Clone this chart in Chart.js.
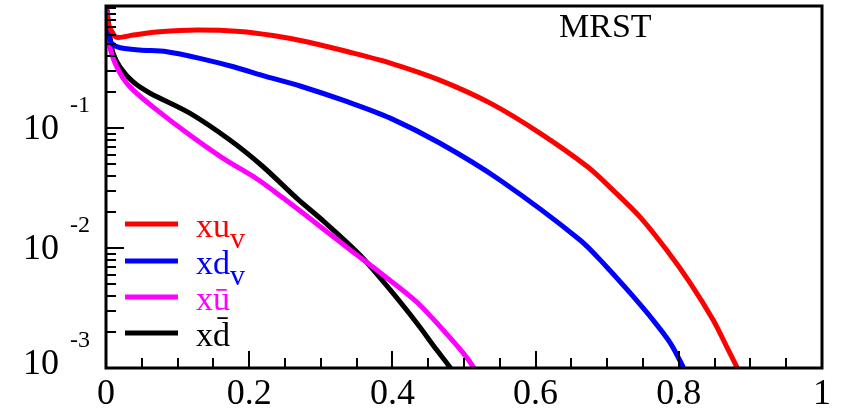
<!DOCTYPE html>
<html>
<head>
<meta charset="utf-8">
<script src="https://cdn.jsdelivr.net/npm/chart.js@4"></script>
<style>
html, body { margin: 0; padding: 0; background: #fff; }
</style>
</head>
<body>
<canvas id="pdfChart" width="841" height="413"></canvas>
<script>
// xu_v
var xUv = [0.0015, 0.004, 0.008, 0.015, 0.038, 0.075, 0.127, 0.187, 0.233, 0.28, 0.338, 0.397, 0.466, 0.536, 0.606, 0.673, 0.708, 0.746, 0.783, 0.816, 0.848, 0.867, 0.881, 0.885];
var yUv = [0.88, 0.72, 0.64, 0.57, 0.596, 0.634, 0.656, 0.638, 0.59, 0.524, 0.432, 0.348, 0.251, 0.162, 0.0908, 0.0473, 0.0304, 0.0181, 0.00962, 0.0051, 0.00251, 0.0015, 0.00102, 0.0009];
// xd_v
var xDv = [0.0015, 0.004, 0.008, 0.02, 0.047, 0.085, 0.131, 0.178, 0.224, 0.271, 0.338, 0.397, 0.466, 0.55, 0.662, 0.699, 0.732, 0.764, 0.788, 0.806, 0.81];
var yDv = [0.85, 0.6, 0.508, 0.467, 0.447, 0.432, 0.381, 0.324, 0.268, 0.224, 0.165, 0.121, 0.075, 0.0369, 0.01167, 0.00699, 0.00422, 0.00251, 0.00162, 0.00102, 0.0009];
// x ubar
var xUbar = [0.0015, 0.0056, 0.0126, 0.0237, 0.038, 0.0712, 0.117, 0.163, 0.211, 0.247, 0.295, 0.341, 0.387, 0.434, 0.471, 0.499, 0.513, 0.517];
var yUbar = [0.95, 0.473, 0.348, 0.261, 0.207, 0.141, 0.0874, 0.0562, 0.0376, 0.0262, 0.0158, 0.00965, 0.00596, 0.00355, 0.00207, 0.00133, 0.00102, 0.0009];
// x dbar
var xDbar = [0.0015, 0.0056, 0.0098, 0.0196, 0.038, 0.061, 0.117, 0.173, 0.219, 0.267, 0.303, 0.355, 0.397, 0.434, 0.462, 0.48, 0.484];
var yDbar = [0.97, 0.573, 0.422, 0.322, 0.242, 0.196, 0.133, 0.0794, 0.0478, 0.0258, 0.0169, 0.0087, 0.00447, 0.00237, 0.00141, 0.00102, 0.0009];

var seriesNames = ['xu', 'xd', 'x\u016B', 'xd\u0304'];
var seriesSubs = ['v', 'v', '', ''];
var seriesColors = ['#ff0000', '#0000ff', '#ff00ff', '#000000'];

var xTickVals = [0, 0.2, 0.4, 0.6, 0.8, 1];
var xTickLabels = ['0', '0.2', '0.4', '0.6', '0.8', '1'];
var yDecades = [0.1, 0.01, 0.001];
var yExpLabels = ['-1', '-2', '-3'];

function pts(xs, ys) {
    return xs.map(function (x, i) { return { x: x, y: ys[i] }; });
}

var allX = [xUv, xDv, xUbar, xDbar];
var allY = [yUv, yDv, yUbar, yDbar];

var decor = {
    id: 'decor',
    afterDraw: function (chart) {
        var ctx = chart.ctx;
        var a = chart.chartArea;
        var sx = chart.scales.x, sy = chart.scales.y;
        ctx.save();
        ctx.strokeStyle = '#000';
        ctx.lineWidth = 2;
        // x ticks, inside
        for (var k = 1; k < 20; k++) {
            var v = k * 0.05;
            var px = Math.round(sx.getPixelForValue(v));
            var len = (k % 4 === 0) ? 17 : 10;
            ctx.beginPath();
            ctx.moveTo(px, a.bottom);
            ctx.lineTo(px, a.bottom - len);
            ctx.stroke();
        }
        // y ticks, inside
        yDecades.forEach(function (d) {
            for (var m = 1; m <= 9; m++) {
                var py = Math.round(sy.getPixelForValue(m * d));
                var l = m === 1 ? 18 : 10;
                ctx.beginPath();
                ctx.moveTo(a.left, py);
                ctx.lineTo(a.left + l, py);
                ctx.stroke();
            }
        });
        var p1 = Math.round(sy.getPixelForValue(1));
        ctx.beginPath();
        ctx.moveTo(a.left, p1);
        ctx.lineTo(a.left + 10, p1);
        ctx.stroke();

        // frame
        ctx.lineWidth = 3;
        ctx.strokeRect(a.left, a.top, a.right - a.left, a.bottom - a.top);

        // tick labels
        ctx.fillStyle = '#000';
        ctx.font = '36px "Liberation Serif"';
        ctx.textAlign = 'center';
        ctx.textBaseline = 'middle';
        xTickVals.forEach(function (v, i) {
            ctx.fillText(xTickLabels[i], sx.getPixelForValue(v), 395);
        });
        yDecades.forEach(function (d, i) {
            var py = Math.min(sy.getPixelForValue(d) + 2, 365);
            ctx.font = '36px "Liberation Serif"';
            ctx.textAlign = 'right';
            ctx.fillText('10', 59, py);
            ctx.font = '24px "Liberation Serif"';
            ctx.textAlign = 'left';
            ctx.fillText(yExpLabels[i], 70, py - 24);
        });

        // title
        ctx.font = '34px "Liberation Serif"';
        ctx.textAlign = 'left';
        ctx.textBaseline = 'alphabetic';
        ctx.fillText('MRST', 559, 37);

        // legend
        seriesNames.forEach(function (name, i) {
            var ly = [224, 261, 297, 333][i];
            ctx.strokeStyle = seriesColors[i];
            ctx.lineWidth = 5;
            ctx.beginPath();
            ctx.moveTo(125, ly);
            ctx.lineTo(178, ly);
            ctx.stroke();
            ctx.fillStyle = seriesColors[i];
            ctx.font = '34px "Liberation Serif"';
            ctx.textAlign = 'left';
            ctx.textBaseline = 'alphabetic';
            ctx.fillText(name, 196, ly + 13);
            if (seriesSubs[i]) {
                var w = ctx.measureText(name).width;
                ctx.font = '30px "Liberation Serif"';
                ctx.fillText(seriesSubs[i], 196 + w, ly + 24);
            }
        });
        ctx.restore();
    }
};

var chart = new Chart(document.getElementById('pdfChart').getContext('2d'), {
    type: 'line',
    data: {
        datasets: seriesNames.map(function (n, i) {
            return {
                label: n + seriesSubs[i],
                data: pts(allX[i], allY[i]),
                borderColor: seriesColors[i],
                borderWidth: 5,
                pointRadius: 0,
                fill: false,
                tension: 0.3,
                clip: 0
            };
        })
    },
    options: {
        responsive: false,
        animation: false,
        layout: { padding: { left: 106, right: 19, top: 6, bottom: 45 } },
        plugins: {
            legend: { display: false },
            tooltip: { enabled: false }
        },
        scales: {
            x: { type: 'linear', min: 0, max: 1, display: false },
            y: { type: 'logarithmic', min: 0.001, max: 1.04, display: false }
        }
    },
    plugins: [decor]
});
</script>
</body>
</html>
